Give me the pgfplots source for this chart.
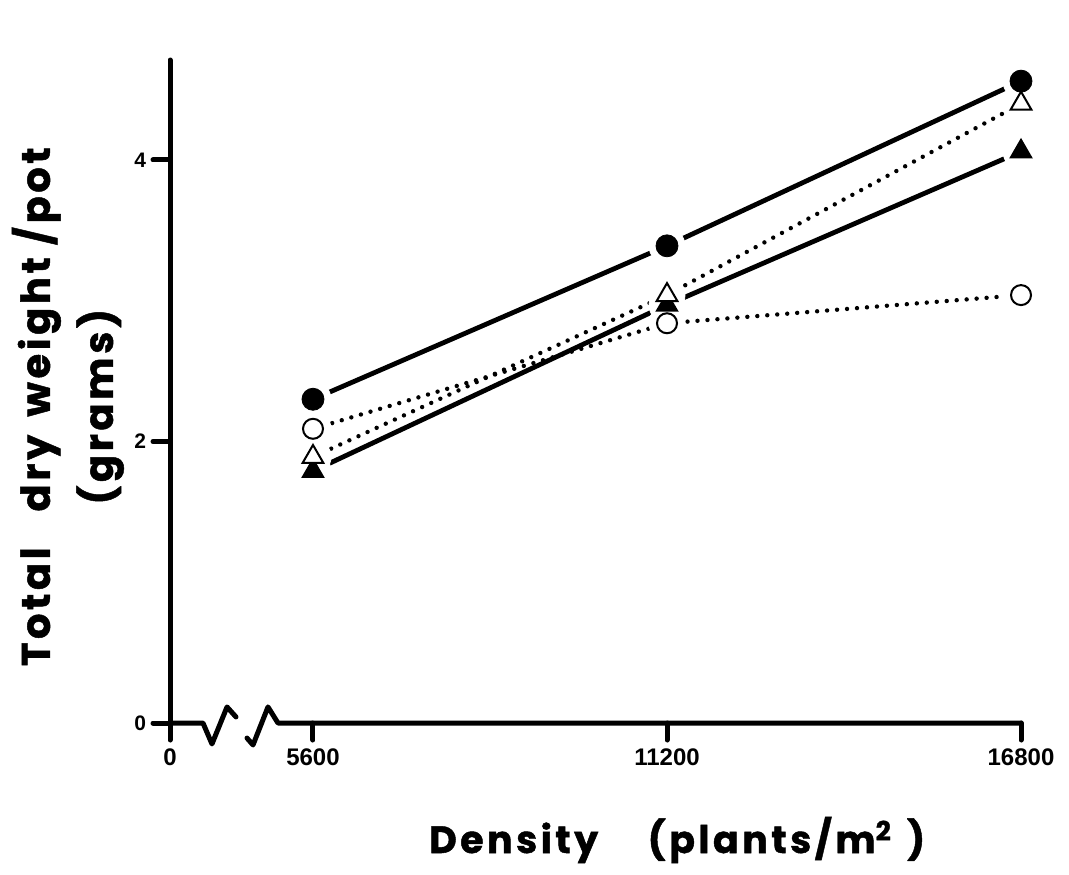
\documentclass[border=0pt]{standalone}
\usepackage{fontspec}
\usepackage{pgfplots}
\usepackage{pgfplotstable}
\pgfplotsset{compat=1.18}
\setmainfont{Liberation Sans}
\newfontfamily\labelfont[LetterSpace=9, FakeBold=1.2]{Poppins}

% density (plants/m2) vs total dry weight per pot (g)
\pgfplotstableread{
x y
5600 2.30
11200 3.39
16800 4.56
}\fullcircle
\pgfplotstableread{
x y
5600 2.09
11200 2.84
16800 3.04
}\opencircle
\pgfplotstableread{
x y
5600 1.89
11200 3.04
16800 4.40
}\opentri
\pgfplotstableread{
x y
5600 1.79
11200 2.97
16800 4.06
}\fulltri

\begin{document}
\begin{tikzpicture}
\begin{axis}[
	at={(0,0)}, anchor=south west,
	scale only axis,
	width=425.5pt, height=331.5pt,
	xmin=3338, xmax=16800,
	ymin=0, ymax=4.71,
	axis x line=bottom, axis y line=left,
	axis line style={line width=2.5pt, -, line cap=round},
	x axis line style={draw=none},
	tick align=outside,
	major tick length=8.5pt,
	tick style={line width=2.5pt, black, line cap=round},
	scaled x ticks=false,
	xtick={3338,5600,11200,16800},
	xticklabels={0,5600,11200,16800},
	ytick={0,2,4},
	/pgf/number format/assume math mode=true,
	xticklabel style={font=\bfseries\fontsize{12}{12}\selectfont, yshift=-1pt},
	yticklabel style={font=\bfseries\fontsize{10.5}{11}\selectfont},
	xlabel={Density\hspace{1.3em}(plants/m\textsuperscript{2}\hspace{0.4em})},
	xlabel style={at={(rel axis cs:0.596,-0.1765)}, anchor=center,
		font=\labelfont\bfseries\fontsize{19}{22}\selectfont},
	ylabel={Total\hspace{0.9em}dry\hspace{0.45em}weight /pot\\(grams)},
	ylabel style={at={(rel axis cs:-0.12,0.477)}, anchor=center, align=center,
		font=\labelfont\bfseries\fontsize{20}{31.5}\selectfont},
	clip=false,
]
% lines
\addplot[line width=2.4pt, line cap=butt] table {\fullcircle};
\addplot[line width=2.4pt, line cap=butt] table {\fulltri};
\addplot[line width=2.2pt, line cap=round, dash pattern=on 0pt off 5pt] table {\opencircle};
\addplot[line width=2.2pt, line cap=round, dash pattern=on 0pt off 5pt] table {\opentri};
% white gaps round the points
\addplot[only marks, mark=*, mark size=9pt, mark options={draw=white, fill=white}] table {\fullcircle};
\addplot[only marks, mark=*, mark size=9pt, mark options={draw=white, fill=white}] table {\fulltri};
\addplot[only marks, mark=*, mark size=9pt, mark options={draw=white, fill=white}] table {\opencircle};
\addplot[only marks, mark=*, mark size=9pt, mark options={draw=white, fill=white}] table {\opentri};
% markers
\addplot[only marks, mark=triangle*, mark size=6pt, mark options={fill=black, draw=black, line width=0.8pt}] table {\fulltri};
\addplot[only marks, mark=triangle*, mark size=6pt, mark options={fill=white, draw=black, line width=1pt}] table {\opentri};
\addplot[only marks, mark=*, mark size=5pt, mark options={fill=white, draw=black, line width=1pt}] table {\opencircle};
\addplot[only marks, mark=*, mark size=5.5pt, mark options={fill=black, draw=black}] table {\fullcircle};
% x axis with its break
\draw[line width=2.5pt, line join=round, line cap=round]
	(axis cs:3338,0) -- (axis cs:3860,0) -- (axis cs:4002,-0.149)
	-- (axis cs:4240,0.114) -- (axis cs:4382,0.043);
\draw[line width=2.5pt, line join=round, line cap=round]
	(axis cs:4556,-0.107) -- (axis cs:4651,-0.156) -- (axis cs:4888,0.114)
	-- (axis cs:5046,0) -- (axis cs:16800,0);
\end{axis}
\path (-85pt,-75.5pt) rectangle (449.5pt,361.5pt);
\end{tikzpicture}
\end{document}
